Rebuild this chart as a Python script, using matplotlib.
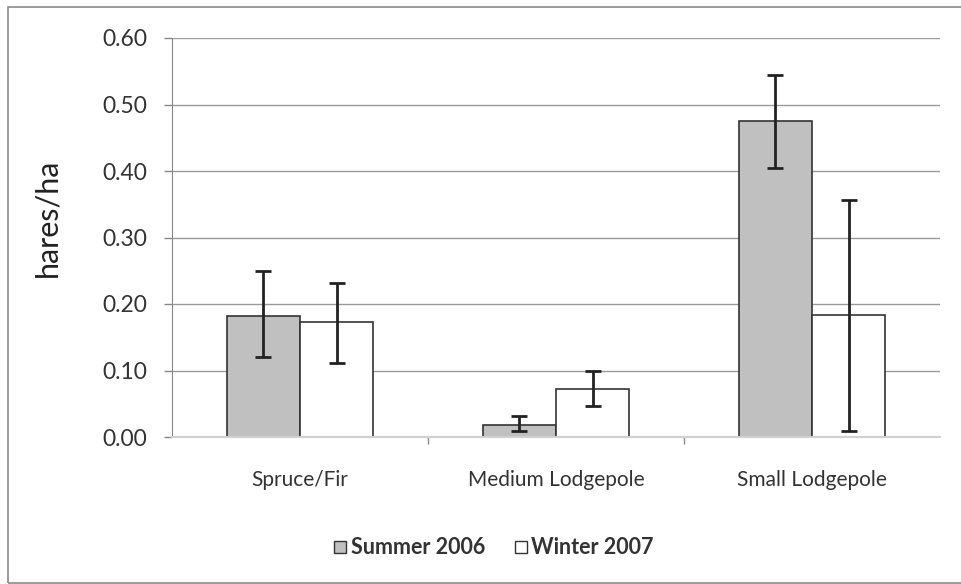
import matplotlib.pyplot as plt
import numpy as np
from matplotlib.patches import Rectangle
from matplotlib.lines import Line2D

plt.rcParams['font.family'] = ['Lato', 'DejaVu Sans']

categories = ['Spruce/Fir', 'Medium Lodgepole', 'Small Lodgepole']
summer = [0.182, 0.018, 0.475]
summer_lo = [0.120, 0.009, 0.405]
summer_hi = [0.250, 0.032, 0.544]
winter = [0.173, 0.072, 0.183]
winter_lo = [0.111, 0.047, 0.009]
winter_hi = [0.232, 0.099, 0.356]
yticks = [0.0, 0.1, 0.2, 0.3, 0.4, 0.5, 0.6]

W, H = 961, 584
fig = plt.figure(figsize=(W / 100, H / 100), dpi=100)
ax = fig.add_axes([172 / W, 1 - 437 / H, (940 - 172) / W, (437 - 38) / H])

# outer chart border
fig.patches.append(Rectangle((8 / W, 1 / H), 1.2, (H - 8) / H, transform=fig.transFigure,
                             fill=False, edgecolor='#8a8a8a', linewidth=1.2))

x = np.arange(len(categories))
bw = 0.2855
s_err = [np.array(summer) - np.array(summer_lo), np.array(summer_hi) - np.array(summer)]
w_err = [np.array(winter) - np.array(winter_lo), np.array(winter_hi) - np.array(winter)]

ax.bar(x - bw / 2, summer, bw, color='#c0c0c0', edgecolor='#333333', linewidth=1.2,
       label='Summer 2006', zorder=2)
ax.bar(x + bw / 2, winter, bw, color='white', edgecolor='#333333', linewidth=1.2,
       label='Winter 2007', zorder=2)
ax.errorbar(x - bw / 2, summer, yerr=s_err, fmt='none', ecolor='#222222', elinewidth=2,
            capsize=6, capthick=2, zorder=3)
ax.errorbar(x + bw / 2, winter, yerr=w_err, fmt='none', ecolor='#222222', elinewidth=2,
            capsize=6, capthick=2, zorder=3)

ax.set_xlim(-0.5, 2.5)
ax.set_ylim(0, 0.6)
ax.set_yticks(yticks)
ax.set_yticklabels([f'{v:.2f}' for v in yticks], fontsize=16.5, color='#333333')
ax.yaxis.grid(True, color='#9a9a9a', linewidth=1)
ax.set_axisbelow(True)

ax.set_xticks([0.5, 1.5])
ax.set_xticklabels([])
ax.tick_params(axis='x', length=5, color='#888888', width=1)
ax.tick_params(axis='y', length=6, color='#888888', width=1, pad=12)
for i, c in enumerate(categories):
    ax.text(x[i], -0.065, c, ha='center', va='center', fontsize=15, color='#333333')

for s in ['top', 'right']:
    ax.spines[s].set_visible(False)
ax.spines['left'].set_color('#888888')
ax.spines['bottom'].set_color('#d0d0d0')
ax.spines['bottom'].set_linewidth(1.5)

ax.set_ylabel('hares/ha', fontsize=22, color='#222222')
ax.yaxis.set_label_coords((61 - 172) / (940 - 172), 0.55)

handles = [Line2D([], [], marker='s', linestyle='none', markersize=9,
                  markerfacecolor='#c0c0c0', markeredgecolor='#333333'),
           Line2D([], [], marker='s', linestyle='none', markersize=9,
                  markerfacecolor='white', markeredgecolor='#333333')]
fig.legend(handles, ['Summer 2006', 'Winter 2007'], loc='center',
           bbox_to_anchor=(492 / W, 1 - 548 / H), ncol=2, frameon=False,
           prop={'size': 15.5, 'weight': 'bold'}, handletextpad=0.05,
           columnspacing=1.2, handlelength=0.9, labelcolor='#333333')

fig.savefig('out.png', dpi=100)
